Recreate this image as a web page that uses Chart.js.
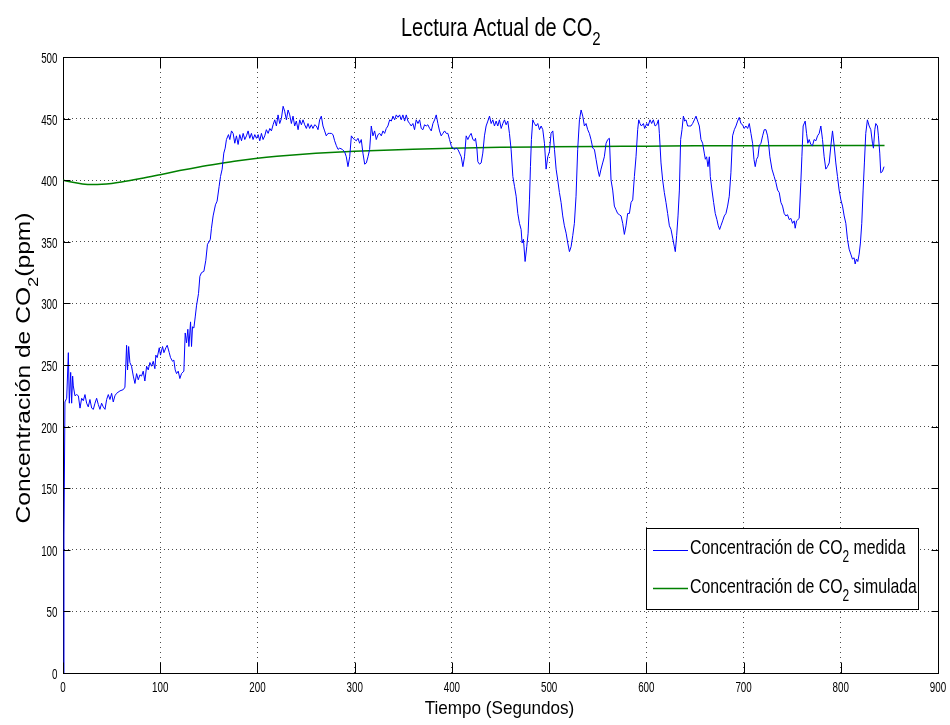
<!DOCTYPE html>
<html lang="es">
<head>
<meta charset="utf-8">
<title>Lectura Actual de CO2</title>
<script src="https://cdn.jsdelivr.net/npm/chart.js@4.4.1/dist/chart.umd.min.js"></script>
<style>
  html, body { margin: 0; padding: 0; background: #ffffff; }
  #wrap { width: 950px; height: 725px; }
</style>
</head>
<body>
<div id="wrap"><canvas id="grafico" width="950" height="725"></canvas></div>
<script>
// Lectura del sensor: tiempo (s) y concentración medida (ppm)
const tiempoMedido = [
  0, 1, 2, 3.8, 5.5, 6.5, 7.9, 8.9, 9.9, 10.6, 12.3, 14,
  15.8, 17.5, 19.2, 20.9, 22.6, 24.3, 26, 27.7, 29.5, 31.2, 32.9, 34.6,
  36.3, 38, 39.7, 41.4, 43.2, 44.9, 46.6, 48.3, 50, 51.7, 53.4, 55.1,
  58.6, 62, 63.7, 65.4, 66.4, 67.5, 68.8, 70.5, 72.3, 74, 75.7, 77.4,
  79.1, 80.8, 82.5, 84.2, 86, 87.7, 89.4, 91.1, 92.8, 94.5, 95.5, 96.9,
  99, 100.3, 102.4, 103.8, 105.8, 107.2, 109.3, 110.6, 112.7, 114, 115.4, 116.8,
  118.5, 120.2, 121.9, 124.3, 125.7, 127.1, 128.4, 129.5, 131.2, 132.2, 133.2, 134.6,
  136, 137.3, 139.4, 140.8, 142.5, 144.9, 146.9, 148.6, 150.3, 151.5, 152.7,
  154.4, 156.8, 158.5, 160.6, 162, 163.7, 165.4, 166.8, 168.1, 170.2, 171.6, 173.3,
  175, 176.7, 178.4, 180.1, 181.8, 183.6, 185.3, 187, 188.7, 190.4, 192.1, 193.8,
  195.5, 197.3, 199, 200.7, 202.4, 204.1, 205.8, 207.5, 209.2, 211, 212.7, 214.4,
  216.1, 217.8, 219.5, 221.2, 222.9, 224.6, 226.4, 228, 229.8, 231.5, 233.2, 234.9,
  236.6, 238.3, 240, 241.8, 243.5, 245.2, 246.9, 248.6, 250.3, 252, 253.7, 255.4,
  257.1, 258.9, 260.6, 262.3, 264, 265.7, 267.4, 269.1, 270.8, 272.6, 274.3, 276,
  277.7, 279.4, 281.2, 282.9,
  284.6, 287.3, 289.7, 291.4, 293.1, 294.9, 296.6, 298.3, 300, 301.7, 303.4, 305.1,
  306.8, 308.5, 310.3, 312, 313.7, 315.4, 317.1, 318.8, 320.5, 322.2, 324, 325.7,
  327.4, 329.1, 330.8, 332.5, 334.2, 336, 337.7, 339.4, 341.1, 342.8, 344.5, 346.2,
  347.9, 349.6, 351.4, 353.1, 354.8, 356.5, 358.2, 359.9, 361.6, 363.3, 365.1, 366.8,
  368.5, 370.2, 371.9, 373.6, 375.3, 377.1, 378.8, 380.5, 382.2, 383.9, 385.6, 387.3,
  389, 390.7, 392.5, 394.2, 395.9, 397.6, 399.3, 401, 402.7, 404.4, 406.2, 407.9,
  409.6, 411.3, 413, 414.7, 416.4, 418.1, 419.8, 421.6, 423.3, 424.3, 425.7, 426.7,
  428.4, 430.1, 431.8, 433.5, 435.2, 437, 438.7, 440.4, 442.1, 443.8, 445.5, 447.2,
  448.9, 450.7, 452.4, 454.1, 455.8, 457.5, 459.2, 460.9, 462.7, 464.4, 466.1, 467.8,
  469.5, 471.2, 472.2, 473.6, 475.3, 477, 478.4, 479.8, 480.8, 481.8, 483.2, 484.9,
  486.6, 488.3, 490.1, 491.8, 493.5, 495.2, 496.9, 498.6, 500.3, 502, 503.8, 505.5,
  507.2, 508.9, 510.6, 512.3, 514, 515.7, 517.5, 519.2, 520.9, 522.6, 524.3, 526,
  527.7, 529.4, 531.2, 532.9, 534.6, 536.3, 538, 539.7, 541.4, 543.1, 544.9, 546.6,
  548.3, 550, 551.7, 553.4, 555.1, 556.8, 558.6, 560.3, 562, 563.7, 565.4, 567.1,
  568.8, 570.5, 572.3, 574, 575.7, 577.4, 579.1, 580.8,
  582.6, 584.3, 586, 587.7, 589.4, 591.1, 592.2, 593.5, 594.9, 597, 598.3, 600.4,
  601.8, 603.8, 605.5, 607.2, 609, 610.7, 612.4, 613.4, 615.1, 616.8, 618.5, 620.2,
  621.9, 623.7, 625.4, 627.1, 628.8, 629.8, 631.2, 632.6, 634, 635.3, 636.7, 638.1,
  639.4, 640.8, 642.5, 644.2, 645.9, 647.6, 649.4, 651.1, 652.8, 654.5, 656.2, 657.9,
  659.6, 660.7, 662, 663.4, 664.8, 665.8, 667.5, 669.2, 670.9, 672.6, 674, 675.4,
  676.7, 678.5, 680.2, 681.9, 683.6, 685.3, 687, 688.7, 690.5, 692.2, 693.9, 695.6,
  697.3, 699, 700.7, 702.4, 704.2, 705.9, 707.6, 709.3, 710.7, 712, 713.4, 714.8,
  716.1, 717.9, 719.6, 721.3, 723, 724.7, 725.7, 727.1, 729.2, 731.5, 733.3, 735,
  736.7, 738.4, 740.1, 741.8, 743.5, 745.2, 747, 748.7, 750.4, 752.1, 753.1, 754.5,
  755.9, 757.2, 758.9, 760, 761.3, 763.4, 764.8, 766.1, 767.5, 769.2, 770.9, 772.6,
  774.4, 776.1, 777.8, 779.5, 781.2, 782.9, 784.6, 786.3, 788.1, 789.8, 791.5, 793.2,
  794.9, 796.6, 798.3, 800.1, 801.8, 803.5, 805.2, 806.9, 808.6, 810.3, 812, 813.7,
  814.8, 816.1, 817.5, 818.9, 820.2, 821.6, 823, 824.3, 825.7, 827.4, 829.2, 830.9,
  832.6, 833.6, 835, 836, 837.7, 838.7, 840.1, 841.1, 842.8, 844.5
];
const co2Medido = [
  0, 112, 220, 223, 260, 219, 244, 219, 241, 233, 225, 226,
  225, 215, 223, 221, 226, 219, 216, 222, 215, 214, 219, 223,
  218, 214, 219, 216, 214, 222, 226, 222, 227, 220, 225, 227,
  229, 230, 232, 266, 246, 265, 252, 249, 241, 235, 243, 238,
  242, 241, 245, 237, 249, 246, 252, 249, 253, 247, 258, 256,
  264, 258, 265, 260, 264, 266, 260, 256, 253, 254, 246, 243,
  245, 239, 243, 245, 276, 268, 279, 265, 285, 265, 281, 280,
  289, 298, 308, 322, 325, 326, 335, 348, 350, 352, 361,
  371, 380, 383, 395, 403, 409, 422, 426, 433, 437, 433, 440,
  438, 430, 436, 429, 437, 432, 438, 433, 436, 440, 434, 438,
  433, 437, 434, 437, 432, 438, 433, 436, 441, 438, 442, 440,
  445, 449, 444, 453, 446, 450, 460, 456, 449, 457, 453, 446,
  452, 444, 448, 441, 449, 445, 449, 445, 442, 446, 442, 445,
  442, 445, 444, 441, 449, 452, 444, 440, 436, 438, 438, 438,
  437, 432, 428, 425,
  426, 425, 423, 419, 411, 419, 436, 434, 433, 432, 434, 430,
  433, 422, 413, 414, 419, 425, 444, 436, 440, 433, 437, 438,
  436, 440, 438, 442, 444, 449, 448, 452, 449, 453, 451, 453,
  449, 453, 448, 453, 448, 446, 444, 446, 441, 449, 446, 449,
  442, 441, 445, 444, 445, 442, 440, 446, 449, 453, 446, 440,
  436, 438, 440, 438, 438, 433, 428, 426, 425, 426, 425, 422,
  419, 411, 419, 436, 433, 436, 438, 433, 432, 434, 426, 415,
  413, 414, 422, 436, 444, 448, 452, 446, 449, 444, 448, 444,
  449, 442, 446, 449, 445, 448, 438, 425, 403, 395, 387, 373,
  365, 360, 349, 352, 334, 346, 357, 384, 411, 433, 449, 446,
  444, 446, 441, 444, 441, 430, 409, 419, 423, 438, 440, 425,
  409, 400, 390, 382, 371, 363, 357, 349, 342, 346, 355, 365,
  387, 425, 449, 457, 452, 444, 446, 441, 438, 433, 426, 425,
  417, 409, 403, 409, 414, 419, 430, 433, 434, 400, 392, 379,
  376, 373, 372, 371, 365, 356, 363, 373,
  373, 382, 384, 403, 419, 441, 449, 446, 444, 446, 442, 446,
  444, 449, 446, 449, 444, 445, 449, 438, 414, 400, 390, 382,
  373, 363, 360, 353, 346, 342, 355, 371, 392, 433, 441, 452,
  448, 449, 444, 444, 444, 446, 449, 452, 448, 444, 433, 430,
  422, 417, 419, 411, 419, 403, 392, 382, 373, 368, 363, 360,
  363, 367, 371, 373, 379, 387, 406, 436, 441, 444, 448, 451,
  446, 445, 442, 444, 442, 446, 438, 430, 417, 411, 417, 419,
  428, 430, 436, 441, 441, 436, 430, 419, 409, 403, 398, 392,
  390, 382, 379, 373, 371, 372, 368, 369, 365, 367, 361, 367,
  368, 369, 398, 419, 444, 448, 438, 430, 433, 429, 428, 433,
  432, 436, 438, 444, 433, 419, 409, 411, 414, 428, 440, 428,
  414, 403, 392, 384, 379, 371, 365, 352, 344, 340, 336, 337,
  332, 336, 334, 340, 349, 365, 392, 414, 438, 449, 444, 441,
  430, 426, 441, 446, 444, 436, 422, 406, 407, 411
];

// Respuesta del modelo simulado: tiempo (s) y concentración (ppm)
const tiempoSimulado = [0, 10, 20, 30, 40, 50, 60, 80, 100, 120, 140, 160, 180, 200,
  220, 240, 260, 280, 300, 330, 360, 400, 450, 500, 550, 600, 650, 700, 845];
const co2Simulado = [400, 398.3, 397, 396.5, 396.7, 397.4, 398.5, 401.3, 404.5, 407.8, 410.8, 413.4, 415.8, 417.8,
  419.4, 420.7, 421.8, 422.7, 423.5, 424.4, 425.1, 425.9, 426.7, 427.1, 427.4, 427.6, 427.9, 428, 428.2];

// Marcas de los ejes
const ticksTiempo = [0, 100, 200, 300, 400, 500, 600, 700, 800, 900];
const ticksCO2 = [0, 50, 100, 150, 200, 250, 300, 350, 400, 450, 500];

// Textos
const serieMedida = 'Concentración de CO₂ medida';
const serieSimulada = 'Concentración de CO₂ simulada';

const FUENTE = '"Liberation Sans", Arial, Helvetica, sans-serif';

// Escribe una línea de texto con tramos en subíndice, comprimida horizontalmente por sx
function escribir(ctx, tramos, x, y, size, sx, align) {
  ctx.save();
  ctx.translate(x, y);
  ctx.scale(sx, 1);
  ctx.textAlign = 'left';
  ctx.textBaseline = 'alphabetic';
  let total = 0;
  for (const r of tramos) {
    ctx.font = (r.sub ? size * 0.75 : size) + 'px ' + FUENTE;
    total += ctx.measureText(r.t).width;
  }
  let cx = align === 'center' ? -total / 2 : (align === 'right' ? -total : 0);
  for (const r of tramos) {
    ctx.font = (r.sub ? size * 0.75 : size) + 'px ' + FUENTE;
    ctx.fillText(r.t, cx, r.sub ? size * 0.38 : 0);
    cx += ctx.measureText(r.t).width;
  }
  ctx.restore();
}

// Separa "CO₂" en tramos normales y subíndice
function tramos(texto) {
  const partes = texto.split('₂');
  const out = [];
  partes.forEach((p, i) => {
    if (i > 0) out.push({ t: '2', sub: true });
    if (p) out.push({ t: p });
  });
  return out;
}

const decoracion = {
  id: 'decoracion',
  afterDatasetsDraw(chart) {
    const ctx = chart.ctx;
    const { left, right, top, bottom } = chart.chartArea;
    const xs = chart.scales.x, ys = chart.scales.y;
    ctx.save();
    ctx.fillStyle = '#000';
    ctx.strokeStyle = '#000';
    ctx.lineWidth = 1;

    // Marco superior y derecho
    const L = Math.round(left) + 0.5, R = Math.round(right) + 0.5;
    const T = Math.round(top) + 0.5, B = Math.round(bottom) + 0.5;
    ctx.beginPath();
    ctx.moveTo(L, T); ctx.lineTo(R, T); ctx.lineTo(R, B);
    ctx.stroke();

    // Marcas hacia dentro en los cuatro lados
    ctx.beginPath();
    xs.ticks.forEach(t => {
      const px = Math.round(xs.getPixelForValue(t.value)) + 0.5;
      ctx.moveTo(px, B); ctx.lineTo(px, B - 11);
      ctx.moveTo(px, T); ctx.lineTo(px, T + 11);
    });
    ys.ticks.forEach(t => {
      const py = Math.round(ys.getPixelForValue(t.value)) + 0.5;
      ctx.moveTo(L, py); ctx.lineTo(L + 7, py);
      ctx.moveTo(R, py); ctx.lineTo(R - 7, py);
    });
    ctx.stroke();

    // Etiquetas de las marcas
    xs.ticks.forEach(t => {
      escribir(ctx, [{ t: String(t.value) }], xs.getPixelForValue(t.value), bottom + 18.5, 14, 0.7, 'center');
    });
    ys.ticks.forEach(t => {
      escribir(ctx, [{ t: String(t.value) }], left - 5.5, ys.getPixelForValue(t.value) + 6, 14, 0.7, 'right');
    });

    // Título y rótulos de los ejes
    escribir(ctx, tramos('Lectura Actual de CO₂'), 401, 35.7, 25, 0.8, 'left');
    escribir(ctx, [{ t: 'Tiempo (Segundos)' }], (left + right) / 2 - 1, 714, 19, 0.9, 'center');
    ctx.save();
    ctx.translate(30, 368);
    ctx.rotate(-Math.PI / 2);
    escribir(ctx, tramos('Concentración de CO₂(ppm)'), 0, 0, 20.5, 1.2, 'center');
    ctx.restore();

    // Leyenda
    const lx = 646.5, ly = 528.5, lw = 272, lh = 81;
    ctx.fillStyle = '#fff';
    ctx.fillRect(lx, ly, lw, lh);
    ctx.strokeStyle = '#000';
    ctx.strokeRect(lx, ly, lw, lh);
    const filas = [
      { texto: serieMedida, color: '#0000ff', yl: 550.5, yt: 554.3 },
      { texto: serieSimulada, color: '#008000', yl: 588.5, yt: 593.3 }
    ];
    filas.forEach(f => {
      ctx.strokeStyle = f.color;
      ctx.lineWidth = f.color === '#008000' ? 1.5 : 1;
      ctx.beginPath();
      ctx.moveTo(653, f.yl); ctx.lineTo(688, f.yl);
      ctx.stroke();
      ctx.fillStyle = '#000';
      escribir(ctx, tramos(f.texto), 690, f.yt, 21, 0.755, 'left');
    });
    ctx.restore();
  }
};

const puntosMedidos = tiempoMedido.map((t, i) => ({ x: t, y: co2Medido[i] }));
const puntosSimulados = tiempoSimulado.map((t, i) => ({ x: t, y: co2Simulado[i] }));

new Chart(document.getElementById('grafico'), {
  type: 'line',
  data: {
    datasets: [
      {
        label: serieMedida,
        data: puntosMedidos,
        borderColor: '#0000ff',
        borderWidth: 1,
        pointRadius: 0,
        tension: 0,
        fill: false
      },
      {
        label: serieSimulada,
        data: puntosSimulados,
        borderColor: '#008000',
        borderWidth: 1.5,
        pointRadius: 0,
        cubicInterpolationMode: 'monotone',
        fill: false
      }
    ]
  },
  options: {
    responsive: false,
    devicePixelRatio: 1,
    animation: false,
    events: [],
    layout: { autoPadding: false, padding: { left: 63, right: 12, top: 57, bottom: 52 } },
    plugins: {
      legend: { display: false },
      title: { display: false },
      tooltip: { enabled: false }
    },
    scales: {
      x: {
        type: 'linear',
        min: 0,
        max: 900,
        afterBuildTicks: s => { s.ticks = ticksTiempo.map(v => ({ value: v })); },
        ticks: { display: false },
        grid: { color: 'rgba(0,0,0,0.7)', lineWidth: 1, drawTicks: false },
        border: { display: true, color: '#000', width: 1, dash: [1, 4] }
      },
      y: {
        type: 'linear',
        min: 0,
        max: 500,
        afterBuildTicks: s => { s.ticks = ticksCO2.map(v => ({ value: v })); },
        ticks: { display: false },
        grid: { color: 'rgba(0,0,0,0.7)', lineWidth: 1, drawTicks: false },
        border: { display: true, color: '#000', width: 1, dash: [1, 3] }
      }
    }
  },
  plugins: [decoracion]
});
</script>
</body>
</html>
